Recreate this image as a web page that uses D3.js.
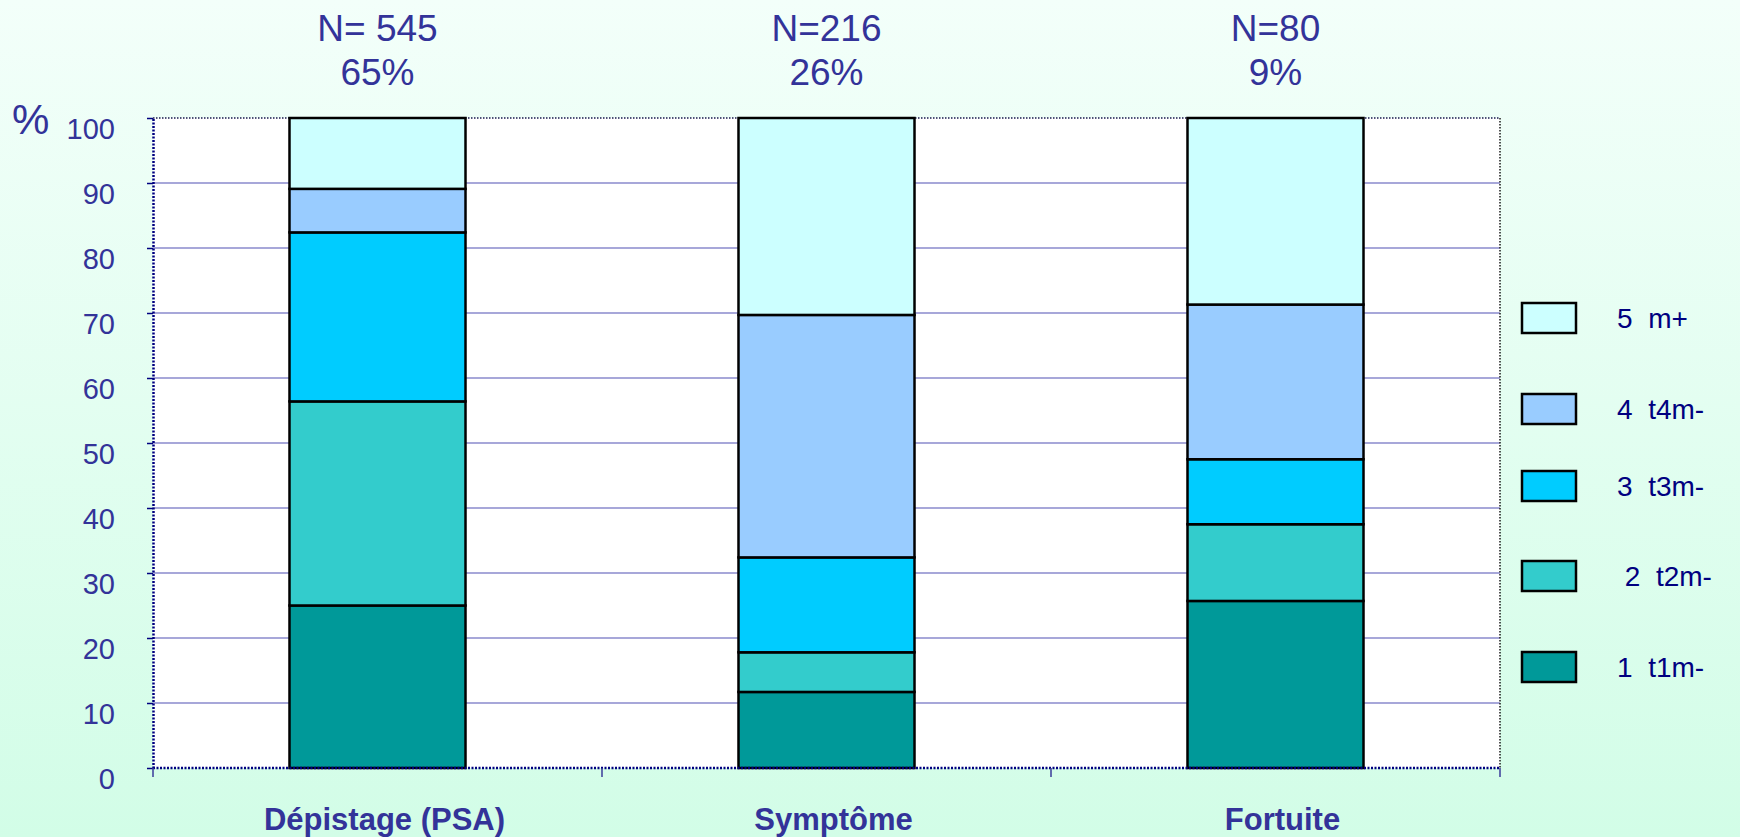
<!DOCTYPE html>
<html>
<head>
<meta charset="utf-8">
<script src="https://cdn.jsdelivr.net/npm/d3@7"></script>
<style>
  html, body { margin: 0; padding: 0; }
  body { width: 1740px; height: 837px; overflow: hidden; }
  svg { display: block; font-family: Arial, "Liberation Sans", sans-serif; }
</style>
</head>
<body>
<svg id="chart" width="1740" height="837"></svg>
<script>
// Categories and headcounts shown above each column
const categories = ["Dépistage (PSA)", "Symptôme", "Fortuite"];
const countLabels = ["N= 545", "N=216", "N=80"];
const shareLabels = ["65%", "26%", "9%"];

// Stage distribution (%) per category, stacked from bottom to top
const seriesKeys = ["t1m", "t2m", "t3m", "t4m", "mplus"];
const seriesLabels = ["1  t1m-", " 2  t2m-", "3  t3m-", "4  t4m-", "5  m+"];
const t1m   = [25.0, 11.7, 25.7];
const t2m   = [31.4,  6.1, 11.8];
const t3m   = [26.0, 14.6, 10.0];
const t4m   = [ 6.7, 37.3, 23.8];
const mplus = [10.9, 30.3, 28.7];

const yTicks = [0, 10, 20, 30, 40, 50, 60, 70, 80, 90, 100];

const colors = {
  t1m: "#009999",
  t2m: "#33cccc",
  t3m: "#00ccff",
  t4m: "#99ccff",
  mplus: "#ccffff"
};

const valuesByKey = { t1m, t2m, t3m, t4m, mplus };
const rows = categories.map((c, i) => {
  const r = { category: c };
  seriesKeys.forEach(k => { r[k] = valuesByKey[k][i]; });
  return r;
});

const svg = d3.select("#chart");
const W = 1740, H = 837;
const plot = { left: 153, right: 1500, top: 118, bottom: 768 };
const textBlue = "#333399";

// Background gradient
const defs = svg.append("defs");
const grad = defs.append("linearGradient")
  .attr("id", "bg").attr("x1", 0).attr("y1", 0).attr("x2", 0).attr("y2", 1);
grad.append("stop").attr("offset", "0%").attr("stop-color", "#f3fffa");
grad.append("stop").attr("offset", "100%").attr("stop-color", "#d2fde7");
svg.append("rect").attr("width", W).attr("height", H).attr("fill", "url(#bg)");

const x = d3.scaleBand().domain(categories).range([plot.left, plot.right]).padding(0);
const y = d3.scaleLinear().domain([0, 100]).range([plot.bottom, plot.top]);
const barFrac = 0.392;
const barW = x.step() * barFrac;

// Plot area
svg.append("rect")
  .attr("x", plot.left).attr("y", plot.top)
  .attr("width", plot.right - plot.left).attr("height", plot.bottom - plot.top)
  .attr("fill", "#ffffff");

// Gridlines
svg.append("g").selectAll("line")
  .data(yTicks.filter(t => t > 0 && t < 100))
  .join("line")
  .attr("x1", plot.left).attr("x2", plot.right)
  .attr("y1", d => y(d)).attr("y2", d => y(d))
  .attr("stroke", "#8a8acc").attr("stroke-width", 1.5);

// Top and right frame (dotted)
svg.append("line")
  .attr("x1", plot.left).attr("x2", plot.right)
  .attr("y1", y(100)).attr("y2", y(100))
  .attr("stroke", "#1a1a4d").attr("stroke-width", 1.5).attr("stroke-dasharray", "1.5,1.5");
svg.append("line")
  .attr("x1", plot.right).attr("x2", plot.right)
  .attr("y1", plot.top).attr("y2", plot.bottom)
  .attr("stroke", "#1a1a1a").attr("stroke-width", 1.5).attr("stroke-dasharray", "1.5,1.5");

// Stacked bars
const stack = d3.stack().keys(seriesKeys);
const layers = stack(rows);
svg.append("g").selectAll("g")
  .data(layers)
  .join("g")
  .attr("fill", d => colors[d.key])
  .selectAll("rect")
  .data(d => d)
  .join("rect")
  .attr("x", d => x(d.data.category) + (x.step() - barW) / 2)
  .attr("y", d => y(d[1]))
  .attr("width", barW)
  .attr("height", d => y(d[0]) - y(d[1]))
  .attr("stroke", "#000000")
  .attr("stroke-width", 2.5);

// Y axis
const yAxis = d3.axisLeft(y).tickValues(yTicks).tickSize(6).tickSizeOuter(0).tickPadding(0);
const gy = svg.append("g").attr("transform", `translate(${plot.left},0)`).call(yAxis);
gy.select(".domain")
  .attr("stroke", "#000080").attr("stroke-width", 2.5).attr("stroke-dasharray", "2,1.5");
gy.selectAll(".tick line").attr("stroke", "#000080").attr("stroke-width", 1.5);
gy.selectAll(".tick text")
  .attr("x", -38).attr("dy", null).attr("y", 20)
  .attr("fill", textBlue).attr("font-size", 29)
  .attr("font-family", "Arial, 'Liberation Sans', sans-serif");

// X axis (ticks on category boundaries)
const boundaries = categories.map(c => x(c)).concat([plot.right]);
svg.append("line")
  .attr("x1", plot.left).attr("x2", plot.right)
  .attr("y1", plot.bottom).attr("y2", plot.bottom)
  .attr("stroke", "#000080").attr("stroke-width", 2.5).attr("stroke-dasharray", "2,1.5");
svg.append("g").selectAll("line")
  .data(boundaries)
  .join("line")
  .attr("x1", d => d).attr("x2", d => d)
  .attr("y1", plot.bottom).attr("y2", plot.bottom + 9)
  .attr("stroke", "#3a3a9a").attr("stroke-width", 1.5);

// Category labels
svg.append("g").selectAll("text")
  .data(categories)
  .join("text")
  .attr("x", d => x(d) + x.step() / 2 + 7)
  .attr("y", 830)
  .attr("text-anchor", "middle")
  .attr("font-weight", "bold")
  .attr("font-size", 31)
  .attr("fill", textBlue)
  .text(d => d);

// Headcount / share labels above columns
const heads = svg.append("g").selectAll("g")
  .data(categories)
  .join("g")
  .attr("transform", d => `translate(${x(d) + x.step() / 2},0)`);
heads.append("text")
  .attr("y", 41).attr("text-anchor", "middle")
  .attr("font-size", 37).attr("fill", textBlue)
  .text((d, i) => countLabels[i]);
heads.append("text")
  .attr("y", 85).attr("text-anchor", "middle")
  .attr("font-size", 37).attr("fill", textBlue)
  .text((d, i) => shareLabels[i]);

// Axis unit
svg.append("text")
  .attr("x", 12).attr("y", 134)
  .attr("font-size", 42).attr("fill", textBlue)
  .text("%");

// Legend (top entry = top of stack)
const legendTops = [303, 394, 471, 561, 652];
const legendOrder = seriesKeys.slice().reverse();
const legend = svg.append("g").selectAll("g")
  .data(legendOrder)
  .join("g")
  .attr("transform", (d, i) => `translate(1522,${legendTops[i]})`);
legend.append("rect")
  .attr("width", 54).attr("height", 30)
  .attr("fill", d => colors[d])
  .attr("stroke", "#000000").attr("stroke-width", 2.5);
legend.append("text")
  .attr("x", 95).attr("y", 25)
  .attr("font-size", 28).attr("fill", "#000080")
  .style("white-space", "pre")
  .text(d => seriesLabels[seriesKeys.indexOf(d)]);
</script>
</body>
</html>
